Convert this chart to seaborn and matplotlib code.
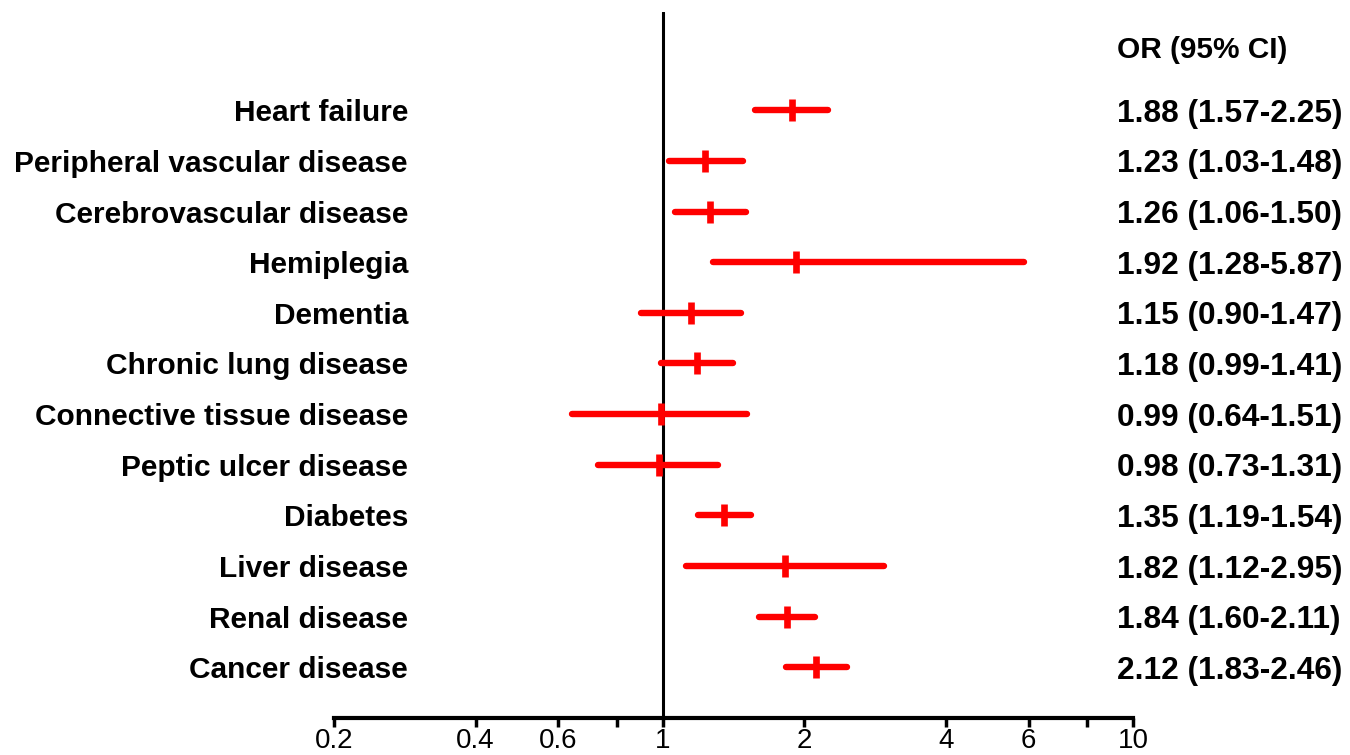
import matplotlib
matplotlib.use("Agg")
import matplotlib.pyplot as plt
import matplotlib.transforms as mtransforms
from matplotlib.ticker import FixedLocator, NullLocator, NullFormatter
import seaborn as sns
import pandas as pd

categories = ["Heart failure", "Peripheral vascular disease", "Cerebrovascular disease",
              "Hemiplegia", "Dementia", "Chronic lung disease", "Connective tissue disease",
              "Peptic ulcer disease", "Diabetes", "Liver disease", "Renal disease", "Cancer disease"]
odds_ratio = [1.88, 1.23, 1.26, 1.92, 1.15, 1.18, 0.99, 0.98, 1.35, 1.82, 1.84, 2.12]
ci_low = [1.57, 1.03, 1.06, 1.28, 0.90, 0.99, 0.64, 0.73, 1.19, 1.12, 1.60, 1.83]
ci_high = [2.25, 1.48, 1.50, 5.87, 1.47, 1.41, 1.51, 1.31, 1.54, 2.95, 2.11, 2.46]
major_ticks = [0.2, 0.4, 0.6, 1, 2, 4, 6, 10]
major_labels = ["0.2", "0.4", "0.6", "1", "2", "4", "6", "10"]
minor_ticks = [0.8, 8]
header = "OR (95% CI)"

df = pd.DataFrame({"cat": categories, "or": odds_ratio, "lo": ci_low, "hi": ci_high})
df["pos"] = range(len(df))

sns.set_style("white")
plt.rcParams["font.family"] = ["Liberation Sans", "DejaVu Sans"]

fig = plt.figure(figsize=(13.5, 7.55), dpi=100)
ax = fig.add_axes([334 / 1350, 1 - 718 / 755, (1133 - 334) / 1350, (718 - 12) / 755])

red = "#ff0000"
ax.hlines(df["pos"], df["lo"], df["hi"], color=red, linewidth=4.6, capstyle="round", zorder=3)
sns.scatterplot(data=df, x="or", y="pos", marker="|", s=260, linewidth=4.8,
                color=red, edgecolor=red, ax=ax, zorder=4, legend=False)

ax.axvline(1, color="black", linewidth=2.2, zorder=2)

ax.set_xscale("log")
ax.set_xlim(0.2, 10)
ax.set_ylim(12.0, -1.94)
ax.xaxis.set_major_locator(FixedLocator(major_ticks))
ax.set_xticklabels(major_labels)
ax.xaxis.set_minor_locator(FixedLocator(minor_ticks))
ax.xaxis.set_minor_formatter(NullFormatter())
ax.yaxis.set_major_locator(NullLocator())
ax.set_xlabel("")
ax.set_ylabel("")

for side in ["left", "right", "top"]:
    ax.spines[side].set_visible(False)
ax.spines["bottom"].set_linewidth(3)
ax.spines["bottom"].set_color("black")
ax.tick_params(axis="x", which="both", direction="out", length=6.5, width=2.5,
               color="black", labelcolor="black", labelsize=20, pad=1, bottom=True)

trans = mtransforms.blended_transform_factory(ax.transAxes, ax.transData)
label_x = (408 - 334) / (1133 - 334)
value_x = (1117 - 334) / (1133 - 334)
for _, r in df.iterrows():
    ax.text(label_x, r["pos"], r["cat"], transform=trans, ha="right", va="center_baseline",
            fontsize=21.5, fontweight="bold", color="black", clip_on=False)
    ax.text(value_x, r["pos"], f"{r['or']:.2f} ({r['lo']:.2f}-{r['hi']:.2f})",
            transform=trans, ha="left", va="center_baseline", fontsize=22.8, fontweight="bold",
            color="black", clip_on=False)
ax.text(value_x, -1.24, header, transform=trans, ha="left", va="center_baseline",
        fontsize=21.5, fontweight="bold", color="black", clip_on=False)

fig.savefig("out.png", dpi=100)
